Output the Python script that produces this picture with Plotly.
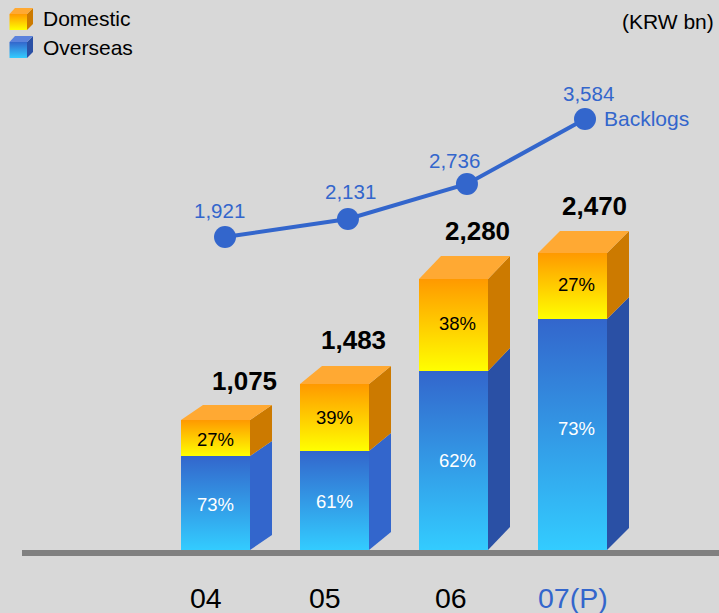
import plotly.graph_objects as go

# ---- data ----
categories = ["04", "05", "06", "07(P)"]
total_labels = ["1,075", "1,483", "2,280", "2,470"]
overseas_pct = ["73%", "61%", "62%", "73%"]
domestic_pct = ["27%", "39%", "38%", "27%"]
# heights as drawn (the picture is not strictly to scale)
overseas_drawn = [783, 825, 1492, 1925]
domestic_drawn = [300, 558, 767, 550]
depth_drawn = [125, 150, 192, 183]
backlog_labels = ["1,921", "2,131", "2,736", "3,584"]
backlog_drawn = [2608, 2758, 3050, 3592]
backlog_pos = [0.08, 1.113, 2.113, 3.105]

W, H = 719, 613
BG = "#d8d8d8"
BLUE = "#3366cc"
X0, STEP, BASE, PX = 215.5, 119.0, 550.0, 0.12
HALF = 34.5 / STEP
DX = 22 / STEP

fig = go.Figure()


def poly(xs, ys, color=None, grad=None, xaxis="x", yaxis="y"):
    t = dict(x=list(xs) + [xs[0]], y=list(ys) + [ys[0]], mode="lines", fill="toself",
             line=dict(width=0), hoverinfo="skip", showlegend=False, xaxis=xaxis, yaxis=yaxis)
    if grad:
        t["fillgradient"] = dict(type="vertical", colorscale=[[0, grad[0]], [1, grad[1]]],
                                 start=grad[2], stop=grad[3])
    else:
        t["fillcolor"] = color
    fig.add_trace(go.Scatter(**t))


for i in range(len(categories)):
    l, r = i - HALF, i + HALF
    o, d, dp = overseas_drawn[i], domestic_drawn[i], depth_drawn[i]
    top = o + d
    side_blue = BLUE if i < 2 else "#2a50a5"
    poly([r, r + DX, r + DX, r], [0, dp, o + dp, o], side_blue)
    poly([r, r + DX, r + DX, r], [o, o + dp, top + dp, top], "#cc7a00")
    poly([l, l + DX, r + DX, r], [top, top + dp, top + dp, top], "#ffa933")
    poly([l, r, r, l], [0, 0, o, o], grad=("#33ccff", BLUE, 0, o))
    poly([l, r, r, l], [o, o, top, top], grad=("#ffff00", "#ff9900", o, top))

fig.add_trace(go.Scatter(x=backlog_pos, y=backlog_drawn, mode="lines+markers",
                         line=dict(color=BLUE, width=4), marker=dict(color=BLUE, size=22),
                         hoverinfo="skip", showlegend=False))


def legend_cube(y, front, top_c, side):
    a = dict(xaxis="x2", yaxis="y2")
    poly([27, 33, 33, 27], [y + 6, y, y + 16, y + 22], side, **a)
    poly([9.5, 15, 33, 27], [y + 6, y, y, y + 6], top_c, **a)
    poly([9.5, 27, 27, 9.5], [y + 6, y + 6, y + 22, y + 22],
         grad=(front[0], front[1], y + 22, y + 6), **a)


legend_cube(8, ("#ffff00", "#ff9900"), "#ffa933", "#cc7a00")
legend_cube(36, ("#33ccff", BLUE), "#5b82dc", "#2a50a5")


def px_label(text, x, y, size, color="#000", bold=False, anchor="center"):
    fig.add_annotation(text=f"<b>{text}</b>" if bold else text, xref="paper", yref="paper",
                       x=x / W, y=1 - y / H, showarrow=False, xanchor=anchor, yanchor="middle",
                       font=dict(size=size, color=color), borderpad=0)


def data_label(text, x, y, size, color="#000", bold=False, dx=0, dy=0):
    fig.add_annotation(text=f"<b>{text}</b>" if bold else text, x=x, y=y, showarrow=False,
                       xshift=dx, yshift=dy, xanchor="center", yanchor="middle",
                       font=dict(size=size, color=color), borderpad=0)


pct_dx = [-0.5, 0, 4, 4]
over_dy = [-1, -1, 0, 6]
dom_dy = [-1, 0, 1, 2]
total_dx = [29, 19, 24, 22]
total_dy = [39, 44, 48, 47]
tick_x = [206, 325, 451, 573]
back_dx = [-6, 3, -12, 3]
back_dy = [27, 28, 24, 25]

for i in range(len(categories)):
    o, d = overseas_drawn[i], domestic_drawn[i]
    data_label(overseas_pct[i], i, o / 2, 18.5, "#ffffff", dx=pct_dx[i], dy=over_dy[i])
    data_label(domestic_pct[i], i, o + d / 2, 18.5, "#000000", dx=pct_dx[i], dy=dom_dy[i])
    data_label(total_labels[i], i, o + d, 26, "#000000", True, dx=total_dx[i], dy=total_dy[i])
    data_label(backlog_labels[i], backlog_pos[i], backlog_drawn[i], 20.5, BLUE, dx=back_dx[i], dy=back_dy[i])
    px_label(categories[i], tick_x[i], 598, 28.5, BLUE if i == 3 else "#000000")

px_label("Domestic", 42, 19, 21, anchor="left")
px_label("Overseas", 42, 48, 21, anchor="left")
px_label("(KRW bn)", 715, 21, 21, anchor="right")
px_label("Backlogs", 603, 118, 21, BLUE, anchor="left")

fig.add_shape(type="rect", xref="paper", yref="paper", x0=22 / W, x1=1,
              y0=1 - 556 / H, y1=1 - 550 / H, fillcolor="#808080", line_width=0, layer="above")

noax = dict(visible=False, fixedrange=True)
fig.update_layout(
    width=W, height=H, autosize=False, margin=dict(l=0, r=0, t=0, b=0), showlegend=False,
    paper_bgcolor=BG, plot_bgcolor=BG, font=dict(family="Liberation Sans, Arial, sans-serif"),
    xaxis=dict(range=[-X0 / STEP, (W - X0) / STEP], domain=[0, 1], **noax),
    yaxis=dict(range=[(BASE - H) / PX, BASE / PX], domain=[0, 1], **noax),
    xaxis2=dict(range=[0, W], overlaying="x", **noax),
    yaxis2=dict(range=[H, 0], overlaying="y", **noax),
)

fig.write_html("out.html", config=dict(displayModeBar=False),
               post_script="document.body.style.margin='0';document.body.style.overflow='hidden';")
